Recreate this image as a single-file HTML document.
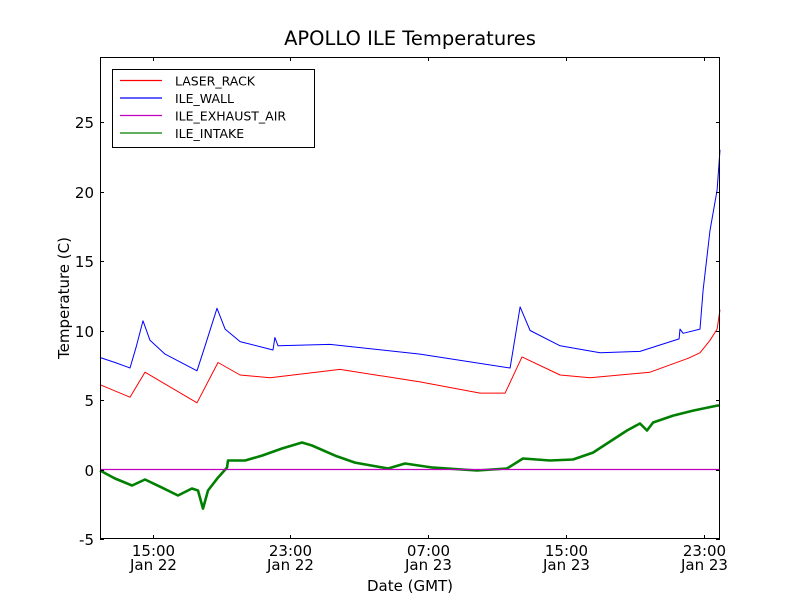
<!DOCTYPE html>
<html><head><meta charset="utf-8"><style>
body{margin:0;background:#fff;}
svg{font-family:"DejaVu Sans","Liberation Sans",sans-serif;}
</style></head><body>
<svg id="chart" width="800" height="600" viewBox="0 0 800 600">
<rect x="0" y="0" width="800" height="600" fill="#fff"/>
<text x="410" y="45" font-size="19.5" text-anchor="middle">APOLLO ILE Temperatures</text>
<g id="plot"></g>
<rect x="100.5" y="57.5" width="619" height="481" fill="none" stroke="#000" stroke-width="1"/>
<text x="410" y="591" font-size="15" text-anchor="middle">Date (GMT)</text>
<text transform="translate(69,298) rotate(-90)" font-size="15" text-anchor="middle">Temperature (C)</text>
<g>
<rect x="112.5" y="69.5" width="202" height="78" fill="#fff" stroke="#000"/>
<g id="legend"></g>
</g>
</svg>
<script>
// hours since 11:28 Jan 22
const redT=[0,1.74,2.61,5.62,6.84,8.12,9.86,13.91,18.55,22.03,23.48,24.46,26.67,28.41,31.88,34.09,34.78,35.36,35.77,35.94];
const redV=[6.1,5.2,7.0,4.8,7.7,6.8,6.6,7.2,6.3,5.5,5.5,8.1,6.8,6.6,7.0,8.0,8.4,9.3,10.1,11.5];
const blueT=[0,0.87,1.74,2.09,2.49,2.9,3.77,5.62,6.09,6.78,7.25,8.12,10.03,10.14,10.32,13.33,18.55,23.77,24.35,24.93,26.67,28.99,31.3,33.57,33.62,33.8,34.78,34.96,35.36,35.77,35.94];
const blueV=[8.06,7.7,7.3,8.8,10.7,9.3,8.3,7.1,8.9,11.6,10.1,9.2,8.6,9.5,8.9,9.0,8.3,7.3,11.7,10.0,8.9,8.4,8.5,9.4,10.1,9.8,10.1,12.9,17.2,20.1,23.0];
const exhT=[0,35.94];
const exhV=[0,0];
const greenT=[0,0.87,1.86,2.61,3.59,4.52,5.33,5.68,5.97,6.26,6.84,7.36,7.42,8.41,9.39,10.55,11.71,12.29,13.62,14.78,16.7,17.68,19.3,21.86,23.59,24.52,26.09,27.42,28.58,29.39,30.55,31.3,31.71,32.06,33.22,34.38,35.77,35.94];
const greenV=[-0.07,-0.65,-1.15,-0.72,-1.3,-1.87,-1.37,-1.51,-2.81,-1.51,-0.58,0.14,0.65,0.65,1.0,1.51,1.94,1.73,1.0,0.5,0.07,0.43,0.14,-0.07,0.07,0.79,0.65,0.72,1.22,1.87,2.81,3.31,2.81,3.38,3.88,4.24,4.6,4.6];
const xTicks=[3.07,11.01,19.01,27.01,35.01];
const xTickTop=["15:00","23:00","07:00","15:00","23:00"];
const xTickBot=["Jan 22","Jan 22","Jan 23","Jan 23","Jan 23"];
const yTicks=[-5,0,5,10,15,20,25];
const names=["LASER_RACK","ILE_WALL","ILE_EXHAUST_AIR","ILE_INTAKE"];

const NS="http://www.w3.org/2000/svg";
const X0=100,X1=720,Y0=539,Y1=57,TMAX=35.94,VMIN=-5,VMAX=29.68;
function sx(t){return X0+(t/TMAX)*(X1-X0);}
function sy(v){return Y0-(v-VMIN)/(VMAX-VMIN)*(Y0-Y1);}
const plot=document.getElementById('plot');
function mk(tag,attrs,parent){const e=document.createElementNS(NS,tag);for(const k in attrs)e.setAttribute(k,attrs[k]);parent.appendChild(e);return e;}
function series(T,V,color,w,name){
  const d=T.map((t,i)=>(i?'L':'M')+sx(t).toFixed(1)+','+sy(V[i]).toFixed(1)).join('');
  const p=mk('path',{d:d,fill:'none',stroke:color,'stroke-width':w,'stroke-linejoin':'round'},plot);
  
  
}
series(greenT,greenV,'#008000',2.6,'ile-intake-line');
series(exhT,exhV,'#bf00bf',1.2,'ile-exhaust-air-line');
series(redT,redV,'#ff0000',1,'laser-rack-line');
series(blueT,blueV,'#0000ff',1,'ile-wall-line');
xTicks.forEach((t,i)=>{
  const x=Math.round(sx(t))+0.5;
  mk('line',{x1:x,x2:x,y1:Y0,y2:Y0-4,stroke:'#000'},plot);
  mk('line',{x1:x,x2:x,y1:Y1,y2:Y1+4,stroke:'#000'},plot);
  const a=mk('text',{x:x,y:556,'font-size':15,'text-anchor':'middle'},plot);a.textContent=xTickTop[i];
  
  
  const b=mk('text',{x:x,y:570,'font-size':15,'text-anchor':'middle'},plot);b.textContent=xTickBot[i];
  
  
});
yTicks.forEach(v=>{
  const y=Math.round(sy(v))+0.5;
  mk('line',{x1:X0,x2:X0+4,y1:y,y2:y,stroke:'#000'},plot);
  mk('line',{x1:X1,x2:X1-4,y1:y,y2:y,stroke:'#000'},plot);
  const a=mk('text',{x:94,y:y+5.5,'font-size':15,'text-anchor':'end'},plot);a.textContent=v;
  
  
});
const lg=document.getElementById('legend');
const cols=['#ff0000','#0000ff','#bf00bf','#008000'];
names.forEach((n,i)=>{
  const y=80.5+i*17.5;
  mk('line',{x1:120,x2:162,y1:y,y2:y,stroke:cols[i],'stroke-width':1.2},lg);
  const t=mk('text',{x:175,y:y+5,'font-size':12.5},lg);t.textContent=n;
  
  
});
</script>
</body></html>
